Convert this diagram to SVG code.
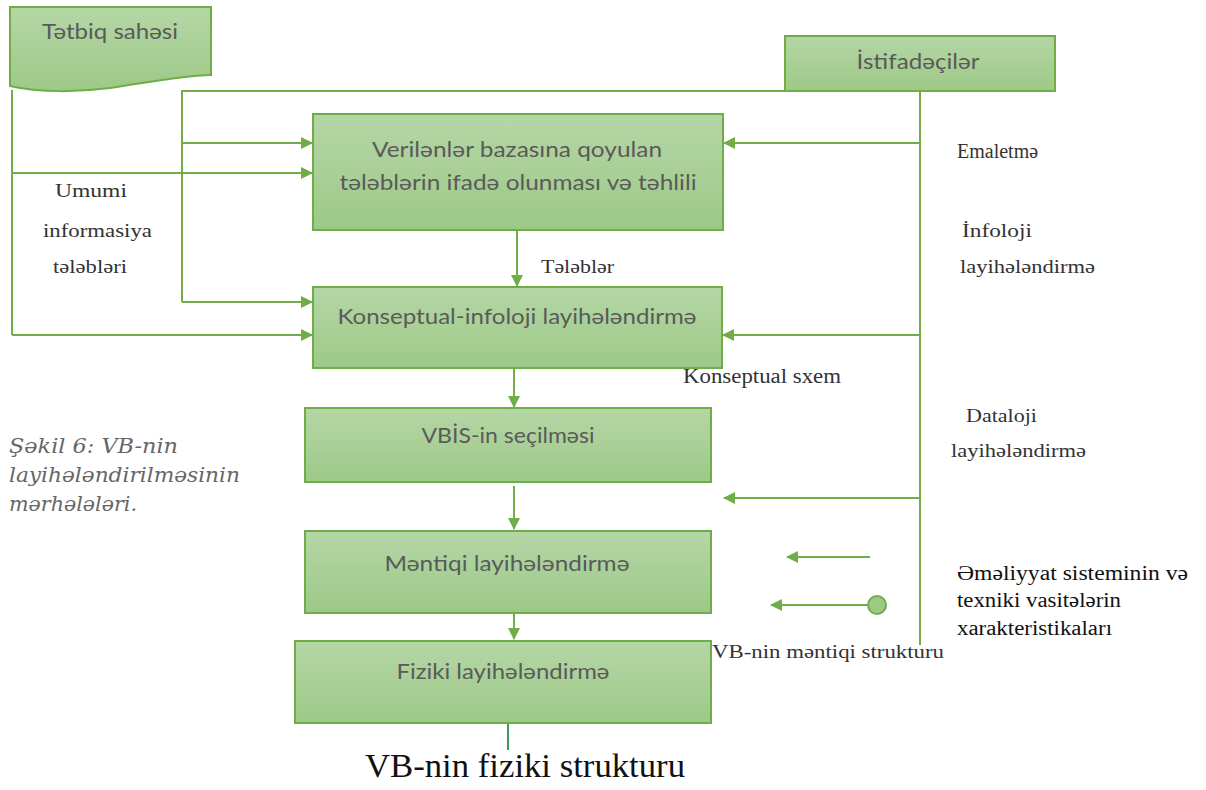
<svg xmlns="http://www.w3.org/2000/svg" width="1206" height="790" viewBox="0 0 1206 790">
<defs>
<linearGradient id="g" x1="0" y1="0" x2="0" y2="1">
<stop offset="0" stop-color="#b5d6a6"/>
<stop offset="1" stop-color="#9dc987"/>
</linearGradient>
<marker id="ah" markerWidth="12" markerHeight="12" refX="11" refY="6" orient="auto" markerUnits="userSpaceOnUse">
<path d="M0,0 L12,6 L0,12 Z" fill="#70ad47"/>
</marker>
<style>
.box{fill:url(#g);stroke:#70ad47;stroke-width:2}
.bt{font-family:Lato,"Open Sans",sans-serif;font-size:21px;fill:#5a5a5a;text-anchor:middle}
.ln{fill:none;stroke:#70ad47;stroke-width:2}
.ar{fill:none;stroke:#70ad47;stroke-width:2;marker-end:url(#ah)}
.sl{font-family:"Liberation Serif",serif;fill:#333;font-size:18px}
.mid{font-size:20px}
.big{font-size:20px;fill:#111}
.title{font-size:33px;fill:#111}
.cap{font-family:"DejaVu Serif",serif;font-style:italic;font-size:21px;fill:#666}
</style>
</defs>
<g id="connectors">
<path class="ln" d="M12,90 V335"/>
<path class="ar" d="M12,173 H312"/>
<path class="ar" d="M12,335 H312"/>
<path class="ln" d="M785,91 H182 V302"/>
<path class="ar" d="M182,143 H312"/>
<path class="ar" d="M182,302 H312"/>
<path class="ln" d="M920,91 V645"/>
<path class="ar" d="M920,143 H724"/>
<path class="ar" d="M920,335 H723"/>
<path class="ar" d="M920,498 H724"/>
<path class="ar" d="M870,557 H787"/>
<path class="ar" d="M868,605 H771"/>
<circle cx="877" cy="605" r="9" fill="#9dc987" stroke="#70ad47" stroke-width="2"/>
<path class="ar" d="M517,231 V286"/>
<path class="ar" d="M514,369 V407"/>
<path class="ar" d="M514,486 V529"/>
<path class="ar" d="M514,614 V639"/>
<path d="M508,723 V750" fill="none" stroke="#3d9a50" stroke-width="2"/>
</g>
<g id="tetbiq">
<path class="box" d="M10,7 H211 V75 C180,76 150,82 110,88 C80,92 40,93 10,86 Z"/>
<text class="bt" x="110" y="39" textLength="136" lengthAdjust="spacingAndGlyphs">Tətbiq sahəsi</text>
</g>
<g id="istifadeciler">
<rect class="box" x="785" y="36" width="270" height="55"/>
<text class="bt" x="918" y="69" textLength="123" lengthAdjust="spacingAndGlyphs">İstifadəçilər</text>
</g>
<g id="box1">
<rect class="box" x="313" y="114" width="410" height="116"/>
<text class="bt" x="517" y="157" textLength="290" lengthAdjust="spacingAndGlyphs">Verilənlər bazasına qoyulan</text>
<text class="bt" x="518" y="190" textLength="357" lengthAdjust="spacingAndGlyphs">tələblərin ifadə olunması və təhlili</text>
</g>
<g id="box2">
<rect class="box" x="313" y="287" width="409" height="81"/>
<text class="bt" x="517" y="324" textLength="359" lengthAdjust="spacingAndGlyphs">Konseptual-infoloji layihələndirmə</text>
</g>
<g id="box3">
<rect class="box" x="305" y="408" width="406" height="74"/>
<text class="bt" x="508" y="443" textLength="173" lengthAdjust="spacingAndGlyphs">VBİS-in seçilməsi</text>
</g>
<g id="box4">
<rect class="box" x="305" y="531" width="406" height="82"/>
<text class="bt" x="507" y="571" textLength="245" lengthAdjust="spacingAndGlyphs">Məntiqi layihələndirmə</text>
</g>
<g id="box5">
<rect class="box" x="295" y="641" width="416" height="82"/>
<text class="bt" x="503" y="679" textLength="213" lengthAdjust="spacingAndGlyphs">Fiziki layihələndirmə</text>
</g>
<g id="labels">
<text class="sl" x="55" y="197" textLength="72" lengthAdjust="spacingAndGlyphs">Umumi</text>
<text class="sl" x="43" y="237" textLength="109" lengthAdjust="spacingAndGlyphs">informasiya</text>
<text class="sl" x="53" y="273" textLength="74" lengthAdjust="spacingAndGlyphs">tələbləri</text>
<text class="sl" x="541" y="273" textLength="73" lengthAdjust="spacingAndGlyphs">Tələblər</text>
<text class="sl mid" x="957" y="158">Emaletmə</text>
<text class="sl" x="962" y="237" textLength="70" lengthAdjust="spacingAndGlyphs">İnfoloji</text>
<text class="sl" x="960" y="273" textLength="135" lengthAdjust="spacingAndGlyphs">layihələndirmə</text>
<text class="sl mid" x="683" y="383" textLength="158" lengthAdjust="spacingAndGlyphs">Konseptual sxem</text>
<text class="sl" x="966" y="422" textLength="71" lengthAdjust="spacingAndGlyphs">Dataloji</text>
<text class="sl" x="951" y="457" textLength="135" lengthAdjust="spacingAndGlyphs">layihələndirmə</text>
<text class="sl big" x="957" y="580" textLength="231" lengthAdjust="spacingAndGlyphs">Əməliyyat sisteminin və</text>
<text class="sl big" x="957" y="607" textLength="164" lengthAdjust="spacingAndGlyphs">texniki vasitələrin</text>
<text class="sl big" x="957" y="635" textLength="155" lengthAdjust="spacingAndGlyphs">xarakteristikaları</text>
<text class="sl" x="712" y="658" textLength="232" lengthAdjust="spacingAndGlyphs">VB-nin məntiqi strukturu</text>
<text class="sl title" x="365" y="777" textLength="320" lengthAdjust="spacingAndGlyphs">VB-nin fiziki strukturu</text>
<text class="cap" x="9" y="453" textLength="169" lengthAdjust="spacingAndGlyphs">Şəkil 6: VB-nin</text>
<text class="cap" x="9" y="482" textLength="231" lengthAdjust="spacingAndGlyphs">layihələndirilməsinin</text>
<text class="cap" x="9" y="511" textLength="128" lengthAdjust="spacingAndGlyphs">mərhələləri.</text>
</g>
</svg>
